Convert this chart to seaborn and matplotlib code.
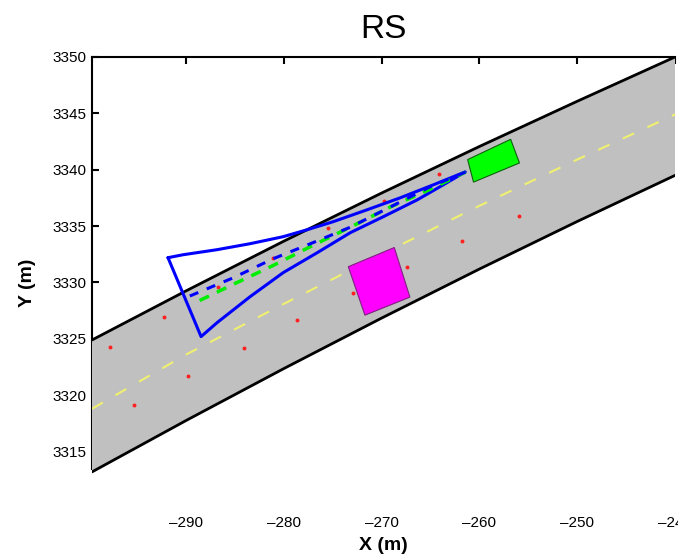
import numpy as np
import matplotlib
matplotlib.use('Agg')
import matplotlib.pyplot as plt
import seaborn as sns

# road edges and centre line (X, Y in m)
upper_x = [-299.6, -290.0, -280.0, -270.0, -260.0, -250.0, -240.0]
upper_y = [3324.9, 3329.25, 3333.66, 3337.93, 3342.06, 3346.07, 3350.0]
lower_x = [-299.6, -290.0, -280.0, -270.0, -260.0, -250.0, -240.0]
lower_y = [3313.2, 3317.75, 3322.36, 3326.84, 3331.19, 3335.41, 3339.5]
center_x = [-299.6, -290.0, -280.0, -270.0, -260.0, -250.0, -240.0]
center_y = [3318.8, 3323.6, 3328.1, 3332.5, 3336.8, 3340.9, 3344.9]

# red sample points, two rows
dots_x = [-297.8, -292.2, -286.7, -281.1, -275.5, -269.8, -264.1, -258.5,
          -295.3, -289.8, -284.1, -278.6, -272.9, -267.4, -261.8, -256.0]
dots_y = [3324.3, 3326.9, 3329.6, 3332.2, 3334.8, 3337.2, 3339.6, 3341.9,
          3319.1, 3321.7, 3324.2, 3326.7, 3329.1, 3331.4, 3333.7, 3335.9]

# sensing region outline (closed): left corner -> upper edge -> tip -> lower edge -> bottom corner
cone_x = [-291.83, -290.29, -286.81, -283.44, -280.06, -277.60, -274.95, -271.47, -268.09, -264.71,
          -261.44,
          -263.69, -266.35, -269.83, -273.21, -276.58, -280.06, -283.44, -286.81, -288.45, -291.83]
cone_y = [3332.20, 3332.46, 3332.91, 3333.44, 3334.06, 3334.68, 3335.39, 3336.45, 3337.51, 3338.66,
          3339.81,
          3338.66, 3337.33, 3335.83, 3334.41, 3332.64, 3330.87, 3328.74, 3326.44, 3325.20, 3332.20]

# planned paths
blue_x = [-289.6, -285.2, -281.1, -277.1, -273.2, -269.1, -265.0, -261.4]
blue_y = [3328.8, 3330.4, 3332.1, 3333.5, 3334.9, 3336.7, 3338.5, 3339.8]
green_x = [-288.6, -285.0, -281.1, -277.0, -273.2, -269.1, -265.2, -261.4]
green_y = [3328.4, 3329.9, 3331.5, 3333.3, 3334.9, 3336.7, 3338.2, 3339.8]

# vehicles (corner points)
ego_x = [-261.2, -256.8, -255.9, -260.6]
ego_y = [3340.9, 3342.7, 3340.6, 3338.9]
obs_x = [-273.4, -268.7, -267.1, -271.7]
obs_y = [3331.4, 3333.1, 3328.7, 3327.1]

sns.set_style("white")
plt.rcParams['font.family'] = ['Liberation Sans Narrow', 'Liberation Sans', 'DejaVu Sans']
plt.rcParams['text.color'] = 'black'
plt.rcParams['axes.labelcolor'] = 'black'

fig = plt.figure(figsize=(6.78, 5.57), dpi=100)
ax = fig.add_axes([0.1357, 0.088, 0.8599, 0.8097])

road_x = upper_x + lower_x[::-1]
road_y = upper_y + lower_y[::-1]
ax.fill(road_x, road_y, color='#c0c0c0', zorder=3, lw=0)

sns.lineplot(x=upper_x, y=upper_y, sort=False, estimator=None, color='black', lw=2, ax=ax, zorder=4)
sns.lineplot(x=lower_x, y=lower_y, sort=False, estimator=None, color='black', lw=2, ax=ax, zorder=4)
sns.lineplot(x=center_x, y=center_y, sort=False, estimator=None, color='#f0f070', lw=1.5,
             ax=ax, zorder=4).lines[-1].set_dashes([6, 7])

sns.scatterplot(x=dots_x, y=dots_y, color='#ff2020', s=8, marker='o', linewidth=0, ax=ax, zorder=5)

ax.fill(obs_x, obs_y, facecolor='#ff00ff', edgecolor='#802080', lw=0.8, zorder=5)
ax.fill(ego_x, ego_y, facecolor='#00ff00', edgecolor='#106010', lw=0.8, zorder=5)

sns.lineplot(x=cone_x, y=cone_y, sort=False, estimator=None, color='#0000ff', lw=2.2, ax=ax, zorder=6)
l_g = sns.lineplot(x=green_x, y=green_y, sort=False, estimator=None, color='#00ee00', lw=2.5, ax=ax, zorder=6).lines[-1]
l_g.set_dashes([3, 2.5])
l_b = sns.lineplot(x=blue_x, y=blue_y, sort=False, estimator=None, color='#0000ff', lw=2.2, ax=ax, zorder=7).lines[-1]
l_b.set_dashes([3, 3])

ax.set_xlim(-299.6, -240)
ax.set_ylim(3310, 3350)
ax.set_xticks([-290, -280, -270, -260, -250, -240])
ax.set_xticklabels(['\u2013290', '\u2013280', '\u2013270', '\u2013260', '\u2013250', '\u2013240'])
ax.set_yticks([3315, 3320, 3325, 3330, 3335, 3340, 3345, 3350])

for s in ['right', 'bottom']:
    ax.spines[s].set_visible(False)
for s in ['left', 'top']:
    ax.spines[s].set_color('black')
    ax.spines[s].set_linewidth(1.5)
ax.spines['left'].set_bounds(3313.5, 3350)

ax.tick_params(axis='y', left=True, direction='in', length=5, width=1.5, color='black',
               labelcolor='black', labelsize=11, pad=4)
ax.tick_params(axis='x', top=True, bottom=False, direction='in', length=5, width=1.5, color='black',
               labeltop=False, labelcolor='black', labelsize=11, pad=6)

ax.set_title('RS', fontsize=24, pad=14, color='black')
ax.set_xlabel('X (m)', fontsize=14, fontweight='bold', labelpad=5)
ax.set_ylabel('Y (m)', fontsize=14, fontweight='bold', labelpad=12)

fig.savefig('out.png', dpi=100)
